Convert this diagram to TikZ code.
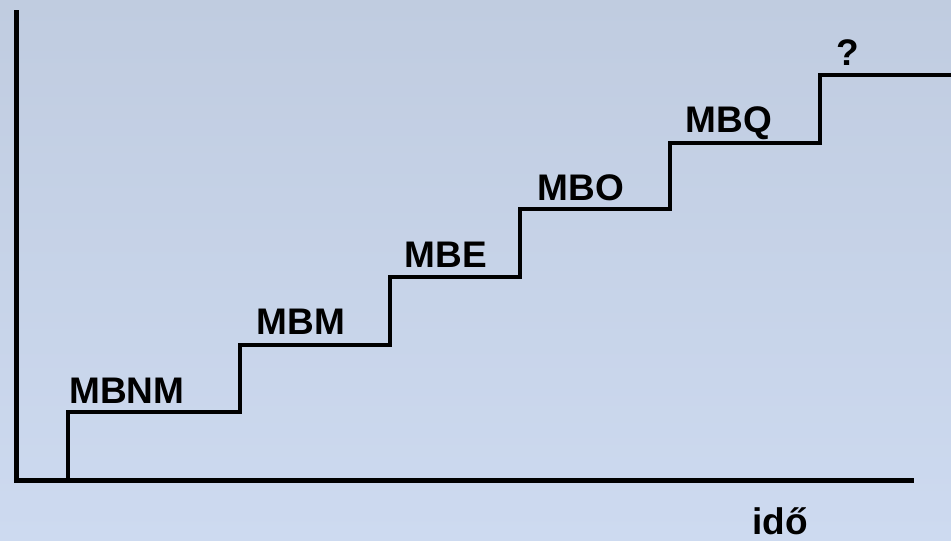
\documentclass[tikz,border=0pt]{standalone}
\usepackage{fontspec}
\setmainfont{Liberation Sans}
\begin{document}
\begin{tikzpicture}[x=1pt,y=-1pt,
  axis/.style={line width=4.5pt},
  stairline/.style={line width=4pt, line join=miter},
  lbl/.style={anchor=base west, inner sep=0pt, font=\fontsize{37}{40}\selectfont\bfseries}]
  % background
  \shade[top color={rgb,255:red,192;green,204;blue,224},
         bottom color={rgb,255:red,205;green,218;blue,240}]
    (0,0) rectangle (951,541);
  \useasboundingbox (0,0) rectangle (951,541);
  % axes
  \coordinate (ytop) at (16.5,10);
  \coordinate (origin) at (16.5,480.5);
  \coordinate (xend) at (914,480.5);
  \draw[axis] (ytop) -- (origin) -- (xend);
  % stairs
  \coordinate (s0) at (68,480);
  \coordinate (s1) at (68,412);
  \coordinate (s2) at (240,412);
  \coordinate (s3) at (240,345);
  \coordinate (s4) at (390,345);
  \coordinate (s5) at (390,277);
  \coordinate (s6) at (520,277);
  \coordinate (s7) at (520,209);
  \coordinate (s8) at (670,209);
  \coordinate (s9) at (670,143);
  \coordinate (s10) at (820,143);
  \coordinate (s11) at (820,75);
  \coordinate (s12) at (955,75);
  \draw[stairline] (s0) -- (s1) -- (s2) -- (s3) -- (s4) -- (s5) -- (s6)
    -- (s7) -- (s8) -- (s9) -- (s10) -- (s11) -- (s12);
  % labels
  \node[lbl] (mbnm) at (69,403.5) {MBNM};
  \node[lbl] (mbm) at (256.5,334.5) {MBM};
  \node[lbl] (mbe) at (404.5,267.5) {MBE};
  \node[lbl] (mbo) at (537.5,200) {MBO};
  \node[lbl] (mbq) at (685.5,132.5) {MBQ};
  \node[lbl] (q) at (836,65) {?};
  \node[lbl] (ido) at (752,534.5) {idő};
\end{tikzpicture}
\end{document}
